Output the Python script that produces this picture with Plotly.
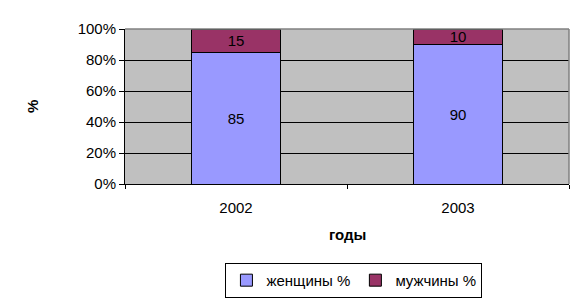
import plotly.graph_objects as go

years = ["2002", "2003"]
women = [85, 90]
men = [15, 10]
series_names = ["женщины %", "мужчины %"]
y_ticks = [0, 20, 40, 60, 80, 100]

FONT = "Liberation Sans, Arial, sans-serif"
FS = 15

fig = go.Figure()
fig.add_trace(go.Bar(x=years, y=women, name=series_names[0], text=[str(v) for v in women],
                     marker=dict(color="#9999FF", line=dict(color="black", width=1)),
                     textposition="inside", insidetextanchor="middle", textangle=0,
                     textfont=dict(color="black", size=FS, family=FONT), width=0.405))
fig.add_trace(go.Bar(x=years, y=men, name=series_names[1], text=[str(v) for v in men],
                     marker=dict(color="#993366", line=dict(color="black", width=1)),
                     textposition="inside", insidetextanchor="middle", textangle=0,
                     textfont=dict(color="black", size=FS, family=FONT), width=0.405))

fig.update_layout(
    width=585, height=305,
    margin=dict(l=125, r=16, t=29, b=121, autoexpand=False),
    paper_bgcolor="white", plot_bgcolor="#C0C0C0",
    barmode="stack",
    font=dict(family=FONT, size=FS, color="black"),
    uniformtext=dict(minsize=FS, mode="show"),
    showlegend=True,
    legend=dict(orientation="h", xref="container", yref="container",
                x=0.605, xanchor="center", y=0.138, yanchor="top",
                bordercolor="black", borderwidth=1, font=dict(size=FS),
                itemwidth=30, tracegroupgap=0, traceorder="normal"),
)
fig.update_xaxes(type="category", tickson="boundaries", ticks="outside", ticklen=4,
                 tickcolor="black", showline=True, linecolor="black", linewidth=1,
                 showgrid=False, ticklabelstandoff=10, range=[-0.5, 1.5])
fig.update_yaxes(range=[0, 100], tickvals=y_ticks, ticktext=[f"{v}%" for v in y_ticks],
                 ticks="outside", ticklen=5, tickcolor="black", showline=True,
                 linecolor="black", linewidth=1, showgrid=True, gridcolor="black",
                 gridwidth=1, zeroline=False)

fig.add_shape(type="line", xref="paper", yref="paper", x0=0, x1=1, y0=1, y1=1,
              line=dict(color="#808080", width=1.5), layer="above")
fig.add_shape(type="line", xref="paper", yref="paper", x0=1, x1=1, y0=0, y1=1,
              line=dict(color="#808080", width=1.5), layer="above")

fig.add_annotation(text="<b>%</b>", xref="paper", yref="paper", x=-0.207, y=0.497,
                   textangle=-90, showarrow=False, font=dict(size=FS),
                   xanchor="center", yanchor="middle")
fig.add_annotation(text="<b>годы</b>", xref="paper", yref="paper", x=0.5, y=-0.323,
                   showarrow=False, font=dict(size=FS), xanchor="center", yanchor="middle")

fig.write_html("out.html")
